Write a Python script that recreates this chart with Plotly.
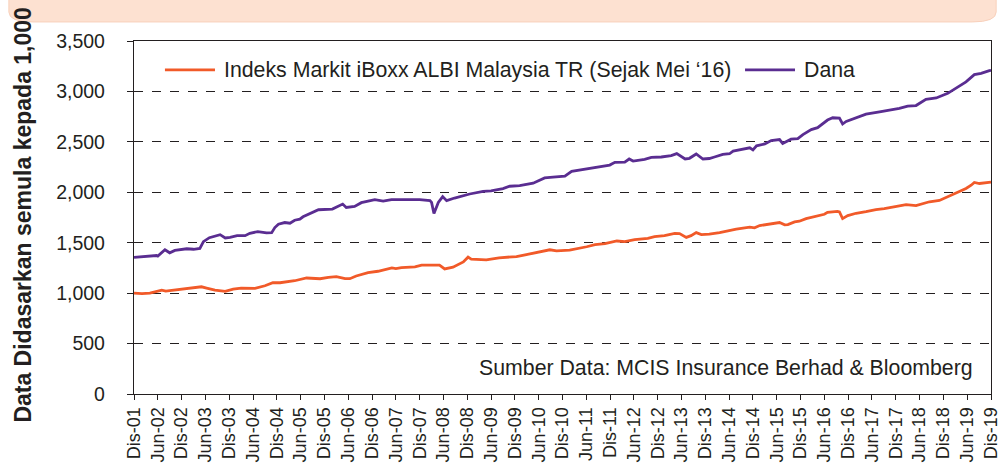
import plotly.graph_objects as go

# ---------------- data (months since Dec 2001, index values) ----------------
tick_labels = []
for yr in range(1, 20):
    if yr > 1:
        tick_labels.append(f"Jun-{yr:02d}")
    tick_labels.append(f"Dis-{yr:02d}")

dana_month = [0, 3, 5.7, 6, 7.8, 9, 10.3, 13.3, 15, 16.6, 17.5, 19, 21.7, 23, 24.2, 26, 28, 29.2,
              31.2, 33.4, 34.7, 35.5, 36.4, 38, 39.3, 40.5, 41.8, 42.6, 44.8, 46.5, 50, 51.4, 52.6,
              53.5, 55.6, 57.3, 60.7, 62.8, 64.9, 72, 74.6, 75, 75.6, 76.7, 77.8, 78.8, 80.8, 84.6,
              88, 90, 93, 94.7, 97.2, 100.6, 103.5, 105.6, 108.6, 110.3, 113.6, 115.3, 118.7, 119.9,
              121.2, 123.7, 124.8, 125.8, 128.7, 130.4, 132.9, 135.4, 136.8, 138.9, 140, 141.7,
              143.4, 145, 146.3, 148.4, 150.1, 151, 155.2, 156, 156.9, 159, 160.6, 162.7, 163.5,
              165.6, 167.3, 168.6, 170.7, 172.3, 174.8, 176.1, 177.8, 178.6, 179.5, 182, 184.5,
              187.9, 191.2, 192.9, 195, 197.1, 199.6, 202.2, 205.1, 208, 209.7, 211.8, 213.5,
              215.6, 216]
dana_value = [1355, 1365, 1373, 1367, 1430, 1400, 1423, 1440, 1435, 1443, 1510, 1550, 1580, 1547,
              1553, 1570, 1570, 1593, 1610, 1597, 1600, 1650, 1683, 1700, 1693, 1723, 1733, 1757,
              1797, 1827, 1833, 1857, 1883, 1850, 1860, 1897, 1927, 1913, 1927, 1927, 1917, 1900,
              1790, 1900, 1957, 1917, 1943, 1983, 2010, 2013, 2037, 2060, 2067, 2090, 2143, 2150,
              2160, 2207, 2230, 2237, 2267, 2270, 2297, 2300, 2330, 2310, 2327, 2347, 2350, 2363,
              2383, 2330, 2337, 2380, 2330, 2335, 2350, 2375, 2382, 2408, 2441, 2421, 2461, 2480,
              2513, 2523, 2484, 2526, 2533, 2572, 2621, 2641, 2716, 2739, 2736, 2677, 2703, 2736,
              2775, 2798, 2818, 2831, 2854, 2860, 2922, 2935, 2981, 3050, 3095, 3167, 3180, 3206,
              3210]

albi_month = [0, 2, 4, 7, 8, 10.7, 13.6, 17, 18.3, 20.4, 23, 25, 27, 30.5, 33, 35, 36.8, 38, 40.5,
              43.5, 46.9, 49, 51, 53.2, 54.4, 56, 59, 61.5, 65, 66, 67.4, 70.8, 72.5, 74, 77, 78.3,
              80.4, 83, 84.2, 85, 88.8, 92, 96.4, 98.9, 101.8, 104.8, 106.5, 109.8, 114.1, 116.2,
              118.7, 121.7, 123.7, 126.2, 129.5, 131.2, 133.7, 136.3, 137.5, 139.2, 140.4, 141.7,
              143, 145, 147.6, 150.1, 151.8, 155.2, 156.4, 157.7, 160.2, 162.7, 164, 164.8, 166.5,
              167.7, 169.4, 171.9, 174, 174.8, 177.3, 177.8, 178.6, 179.9, 182, 184.5, 187, 189.1,
              191.2, 192.9, 194.6, 197.1, 198.8, 200.5, 203, 205.1, 207.2, 209.7, 211, 211.8,
              213.1, 215.6, 216]
albi_value = [1000, 995, 1000, 1030, 1020, 1033, 1047, 1063, 1050, 1030, 1017, 1040, 1050, 1047,
              1073, 1103, 1103, 1110, 1123, 1150, 1143, 1157, 1163, 1143, 1143, 1170, 1203, 1217,
              1250, 1243, 1253, 1260, 1277, 1277, 1277, 1240, 1257, 1310, 1357, 1337, 1330, 1350,
              1363, 1383, 1403, 1430, 1420, 1427, 1460, 1480, 1490, 1517, 1510, 1530, 1543, 1560,
              1570, 1593, 1590, 1553, 1570, 1600, 1580, 1585, 1601, 1621, 1634, 1654, 1647, 1670,
              1687, 1700, 1677, 1680, 1706, 1713, 1739, 1759, 1782, 1801, 1811, 1805, 1739, 1769,
              1792, 1808, 1828, 1837, 1854, 1870, 1877, 1867, 1890, 1906, 1919, 1955, 1995, 2038,
              2070, 2097, 2087, 2097, 2100]

series_names = ["Indeks Markit iBoxx ALBI Malaysia TR (Sejak Mei \u201816)", "Dana"]
y_ticks = [0, 500, 1000, 1500, 2000, 2500, 3000, 3500]

ORANGE = "#f15a29"
PURPLE = "#5a2d91"
FONT = "Liberation Sans, Arial, sans-serif"
TXT = "#231f20"

fig = go.Figure()
fig.add_trace(go.Scatter(x=albi_month, y=albi_value, mode="lines", name=series_names[0],
                         line=dict(color=ORANGE, width=2.8), showlegend=False))
fig.add_trace(go.Scatter(x=dana_month, y=dana_value, mode="lines", name=series_names[1],
                         line=dict(color=PURPLE, width=2.8), showlegend=False))

fig.update_layout(
    width=1000, height=464,
    margin=dict(l=134, r=9, t=41, b=70, autoexpand=False),
    paper_bgcolor="white", plot_bgcolor="white",
    font=dict(family=FONT, color=TXT),
    showlegend=False,
)

fig.update_xaxes(
    range=[0, 216],
    automargin=False,
    tickmode="array",
    tickvals=[i * 6 for i in range(len(tick_labels))],
    ticktext=tick_labels,
    tickangle=-90,
    tickfont=dict(size=18, color=TXT),
    ticklabeloverflow="allow",
    ticks="outside", ticklen=5, tickcolor=TXT, tickwidth=1,
    showline=True, linecolor=TXT, linewidth=1.3, mirror=True,
    showgrid=False, zeroline=False,
)
fig.update_yaxes(
    range=[0, 3500],
    automargin=False,
    tickmode="array",
    tickvals=y_ticks,
    tickformat=",",
    tickfont=dict(size=19.5, color=TXT),
    ticks="outside", ticklen=6, tickcolor=TXT, tickwidth=1,
    ticklabelstandoff=18,
    showline=True, linecolor=TXT, linewidth=1.3, mirror=True,
    showgrid=True, gridcolor=TXT, griddash="dash", gridwidth=1,
    zeroline=False,
)

# peach band at the top
fig.add_shape(type="path", xref="paper", yref="paper",
              path="M -0.146,1.13 L -0.146,1.082 Q -0.146,1.054 -0.118,1.054 "
                   "L 0.978,1.054 Q 1.006,1.054 1.006,1.082 L 1.006,1.13 Z",
              fillcolor="#fde1d1", line=dict(color="#f8d0bb", width=1), layer="below")

# manual legend (long line samples as in the reference)
legend_items = [
    (series_names[0], ORANGE, 0.0361, 0.0945),
    (series_names[1], PURPLE, 0.713, 0.7713),
]
for name, color, x0, x1 in legend_items:
    fig.add_shape(type="line", xref="paper", yref="paper", x0=x0, x1=x1, y0=0.918, y1=0.918,
                  line=dict(color=color, width=2.8))
    fig.add_annotation(text=name, xref="paper", yref="paper", x=x1 + 0.008, y=0.918,
                       showarrow=False, xanchor="left", yanchor="middle",
                       font=dict(size=21.3, color=TXT, family=FONT))

# y-axis title
fig.add_annotation(text="<b>Data Didasarkan semula kepada 1,000</b>", xref="paper", yref="paper",
                   x=-0.13, y=0.507, textangle=-90, showarrow=False,
                   font=dict(size=23, color=TXT, family=FONT),
                   xanchor="center", yanchor="middle")

# source note
fig.add_annotation(text="Sumber Data: MCIS Insurance Berhad & Bloomberg", xref="paper", yref="paper",
                   x=0.981, y=0.074, showarrow=False, xanchor="right", yanchor="middle",
                   font=dict(size=21.3, color=TXT, family=FONT))

fig.write_html("out.html", config={"displayModeBar": False},
               post_script="document.body.style.margin='0';document.body.style.padding='0';")
